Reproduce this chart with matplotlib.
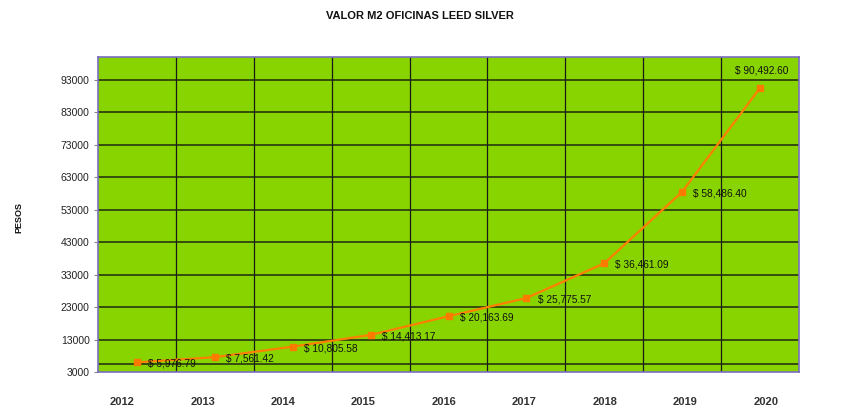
import numpy as np
import matplotlib.pyplot as plt

# datos
years = ['2012', '2013', '2014', '2015', '2016', '2017', '2018', '2019', '2020']
values = [5976.79, 7561.42, 10805.58, 14413.17, 20163.69, 25775.57, 36461.09, 58486.40, 90492.60]
y_ticks = [3000, 13000, 23000, 33000, 43000, 53000, 63000, 73000, 83000, 93000]

plt.rcParams['font.family'] = ['Liberation Sans', 'DejaVu Sans']

fig = plt.figure(figsize=(8.44, 4.2), dpi=100)
ax = fig.add_axes([0.1161, 0.1143, 0.8306, 0.75])

x = np.arange(len(years)) + 0.5
ax.set_facecolor('#88d400')
ax.set_xlim(0, len(years))
ax.set_ylim(3000, 100000)

# rejilla
for v in y_ticks[1:]:
    ax.axhline(v, color='#1f2a10', lw=1.1, zorder=1)
ax.axhline(5500, color='#1f2a10', lw=1.1, zorder=1)
for i in range(1, len(years)):
    ax.axvline(i, color='#1a1a1a', lw=0.9, zorder=1)

ax.plot(x, values, color='#ff8000', lw=1.6, marker='s', markersize=5,
        markerfacecolor='#ff7a00', markeredgecolor='#ff7a00', zorder=3)

for i, v in enumerate(values):
    label = '$ {:,.2f}'.format(v)
    if i == len(values) - 1:
        ax.annotate(label, (x[i], v), xytext=(1, 9), textcoords='offset points',
                    ha='center', va='bottom', fontsize=7.3, color='#111111')
    else:
        ax.annotate(label, (x[i], v), xytext=(8, -1), textcoords='offset points',
                    ha='left', va='center', fontsize=7.3, color='#111111')

for s in ax.spines.values():
    s.set_color('#7a6cc0')
    s.set_linewidth(1.2)

ax.set_yticks(y_ticks)
ax.set_yticklabels([str(v) for v in y_ticks], fontsize=7.5, color='#222222')
ax.set_xticks(np.arange(len(years)) * 1.033 + 0.31)
ax.set_xticklabels(years, fontsize=8, fontweight='bold', color='#333333')
ax.tick_params(axis='x', length=0, pad=18)
ax.tick_params(axis='y', length=3, pad=3, color='#888888')

fig.text(0.497, 0.962, 'VALOR M2 OFICINAS LEED SILVER', ha='center', va='center',
         fontsize=8, fontweight='bold', color='#111111')
fig.text(0.022, 0.483, 'PESOS', rotation=90, ha='center', va='center',
         fontsize=6.5, fontweight='bold', color='#111111')

fig.savefig('out.png', dpi=100)
